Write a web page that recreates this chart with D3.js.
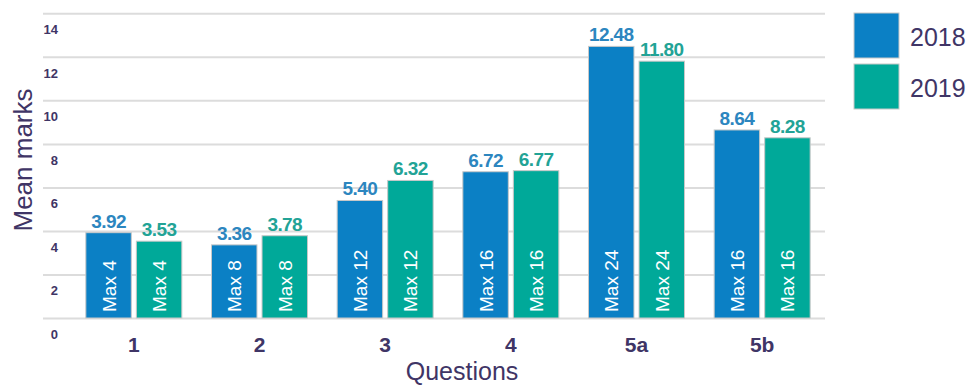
<!DOCTYPE html>
<html><head><meta charset="utf-8">
<script src="https://cdn.jsdelivr.net/npm/d3@7"></script>
<style>body{margin:0;background:#fff;}svg{display:block;font-family:"Liberation Sans",Arial,sans-serif;}</style>
</head><body><svg id="c" width="970" height="387"></svg>
<script>
const categories = ["1","2","3","4","5a","5b"];
const seriesNames = ["2018","2019"];
const values2018 = [3.92,3.36,5.40,6.72,12.48,8.64];
const values2019 = [3.53,3.78,6.32,6.77,11.80,8.28];
const maxLabels = ["Max 4","Max 8","Max 12","Max 16","Max 24","Max 16"];
const yTicks = [0,2,4,6,8,10,12,14];
const colors = ["#0b80c5","#00a999"];
const labelColors = ["#2c86bf","#22a396"];
const textColor = "#3f3566";

const svg = d3.select("#c");
const y = d3.scaleLinear().domain([0,14]).range([318,13.3]);
const x = d3.scaleBand().domain(categories).range([71,825]).padding(0);
const xs = d3.scaleBand().domain(seriesNames).range([0,96]).paddingInner(0.1);

// gridlines
const ga = svg.append("g").attr("transform","translate(825,0)")
  .call(d3.axisLeft(y).tickValues(yTicks).tickSize(782).tickFormat(""));
ga.select(".domain").remove();
ga.selectAll(".tick line").attr("stroke","#dcdcdc").attr("stroke-width",2);

// y tick labels (below each line)
svg.append("g").selectAll("text").data(yTicks).join("text")
  .attr("x",58).attr("y",d=>y(d)+21).attr("text-anchor","end")
  .attr("font-size",13).attr("font-weight","bold").attr("fill",textColor)
  .text(d=>d);

const data = categories.map((c,i)=>({c, vals:[values2018[i],values2019[i]], max:maxLabels[i]}));
const groups = svg.append("g").selectAll("g").data(data).join("g")
  .attr("transform",d=>`translate(${x(d.c)+x.bandwidth()/2-48},0)`);

groups.each(function(d){
  const g = d3.select(this);
  seriesNames.forEach((s,j)=>{
    const v = d.vals[j];
    const bx = xs(s), bw = xs.bandwidth();
    g.append("rect").attr("x",bx).attr("y",y(v)).attr("width",bw).attr("height",y(0)-y(v))
      .attr("fill",colors[j]).attr("stroke","#c8c8c8").attr("stroke-width",1);
    g.append("text").attr("x",bx+bw/2).attr("y",y(v)-5).attr("text-anchor","middle")
      .attr("font-size",19).attr("font-weight","bold").attr("fill",labelColors[j])
      .attr("letter-spacing","-0.6").text(v.toFixed(2));
    g.append("text").attr("transform",`translate(${bx+bw/2+7},${y(0)-6}) rotate(-90)`)
      .attr("font-size",19).attr("fill","#fff").text(d.max);
  });
});

// category labels
svg.append("g").selectAll("text").data(categories).join("text")
  .attr("x",d=>x(d)+x.bandwidth()/2).attr("y",352).attr("text-anchor","middle")
  .attr("font-size",21).attr("font-weight","bold").attr("fill",textColor).text(d=>d);

// axis titles
svg.append("text").attr("x",462).attr("y",380).attr("text-anchor","middle")
  .attr("font-size",25).attr("fill",textColor).text("Questions");
svg.append("text").attr("transform","translate(32,160) rotate(-90)").attr("text-anchor","middle")
  .attr("font-size",26).attr("fill",textColor).text("Mean marks");

// legend
const lg = svg.append("g").selectAll("g").data(seriesNames).join("g")
  .attr("transform",(d,i)=>`translate(854,${13+i*51})`);
lg.append("rect").attr("width",45).attr("height",45).attr("fill",(d,i)=>colors[i])
  .attr("stroke","#c8c8c8").attr("stroke-width",1);
lg.append("text").attr("x",56).attr("y",33).attr("font-size",25).attr("fill",textColor).text(d=>d);
</script></body></html>
